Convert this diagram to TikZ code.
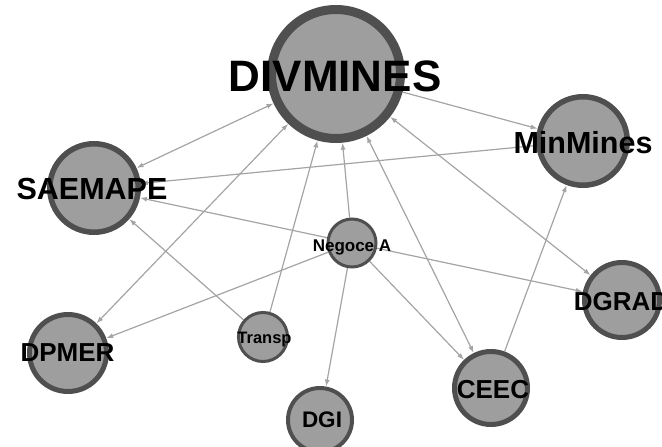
\documentclass[tikz,border=0pt]{standalone}
\usepackage{fontspec}
\setmainfont{Liberation Sans}
\usetikzlibrary{arrows.meta,backgrounds}
\definecolor{nodefill}{HTML}{9E9E9E}
\definecolor{nodeborder}{HTML}{4F4F4F}
\definecolor{edgecol}{HTML}{A4A4A4}
\tikzset{
  vert/.style n args={2}{circle, fill=nodefill, draw=nodeborder, line width=#2pt, inner sep=0pt, minimum size={2*#1pt-#2pt}},
  lbl/.style={font=\bfseries\fontsize{#1}{#1}\selectfont, inner sep=0pt, text=black},
  link/.style={draw=edgecol, line width=1.2pt, -{Latex[length=7pt,width=5pt]}},
  blink/.style={draw=edgecol, line width=1.2pt, {Latex[length=7pt,width=5pt]}-{Latex[length=7pt,width=5pt]}}
}
\begin{document}
\begin{tikzpicture}[x=1pt,y=-1pt]
\useasboundingbox (0,0) rectangle (662,447);
\clip (0,0) rectangle (662,447);
\node[vert={69}{9}]   (div) at (336,74) {};
\node[vert={47}{5.5}] (sae) at (94,188) {};
\node[vert={47}{5.5}] (min) at (583,141) {};
\node[vert={25.5}{3}] (neg) at (352,243) {};
\node[vert={41}{5}]   (dpm) at (68,353) {};
\node[vert={26}{3}]   (tra) at (263,337) {};
\node[vert={34}{4}]   (dgi) at (320,420) {};
\node[vert={39}{5}]   (cee) at (491,388) {};
\node[vert={40}{5}]   (dgr) at (622,300) {};
\begin{scope}[on background layer]
\draw[blink] (div) -- (sae);
\draw[link] (div) -- (min);
\draw[link] (min) -- (sae);
\draw[link] (neg) -- (sae);
\draw[link] (tra) -- (sae);
\draw[blink] (div) -- (dpm);
\draw[link] (neg) -- (dpm);
\draw[link] (tra) -- (div);
\draw[link] (neg) -- (div);
\draw[link] (neg) -- (dgi);
\draw[link] (neg) -- (cee);
\draw[link] (neg) -- (dgr);
\draw[blink] (div) -- (cee);
\draw[blink] (div) -- (dgr);
\draw[link] (cee) -- (min);
\end{scope}
\node[lbl=44] (tdiv) at (335,76) {DIVMINES};
\node[lbl=30.5] (tsae) at (92,189) {SAEMAPE};
\node[lbl=30.5] (tmin) at (583,143) {MinMines};
\node[lbl=17] (tneg) at (352,247) {Negoce A};
\node[lbl=26] (tdpm) at (67.5,353) {DPMER};
\node[lbl=16.5] (ttra) at (264.5,340) {Transp};
\node[lbl=22.5] (tdgi) at (322,420) {DGI};
\node[lbl=26] (tcee) at (493,390) {CEEC};
\node[lbl=26] (tdgr) at (621.5,302) {DGRAD};
\end{tikzpicture}
\end{document}
